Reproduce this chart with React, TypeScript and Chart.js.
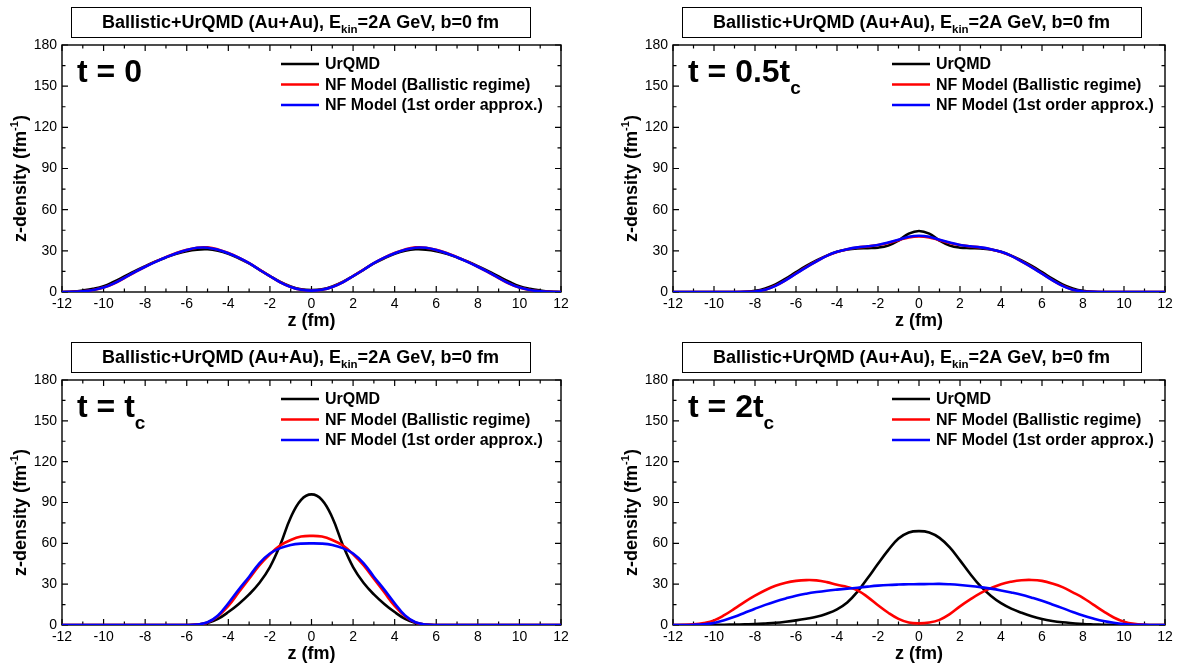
import React, { useEffect, useRef } from 'react';
import { Chart, registerables } from 'chart.js';

Chart.register(...registerables);

const FONT = '"Liberation Sans", Arial, Helvetica, sans-serif';

// ---------------- data ----------------
const Z = [
  -12, -11.5, -11, -10.5, -10, -9.5, -9, -8.5, -8, -7.5, -7, -6.5, -6, -5.5, -5, -4.5, -4, -3.5, -3, -2.5, -2, -1.5, -1, -0.5,
  0, 0.5, 1, 1.5, 2, 2.5, 3, 3.5, 4, 4.5, 5, 5.5, 6, 6.5, 7, 7.5, 8, 8.5, 9, 9.5, 10, 10.5, 11, 11.5, 12,
];

const X_TICKS = [-12, -10, -8, -6, -4, -2, 0, 2, 4, 6, 8, 10, 12];
const Y_TICKS = [0, 30, 60, 90, 120, 150, 180];

const SERIES_NAMES = ['UrQMD', 'NF Model (Ballistic regime)', 'NF Model (1st order approx.)'];
const SERIES_COLORS = ['#000000', '#ff0000', '#0000ff'];

const TITLE_MAIN = 'Ballistic+UrQMD (Au+Au), E';
const TITLE_SUB = 'kin';
const TITLE_END = '=2A GeV, b=0 fm';

const X_TITLE = 'z (fm)';
const Y_TITLE = 'z-density (fm';
const Y_TITLE_SUP = '-1';

const PANEL_LABELS = ['t = 0', 't = 0.5t', 't = t', 't = 2t'];
const PANEL_SUBS = ['', 'c', 'c', 'c'];

// t = 0
const P1_URQMD = [
  0, 0.3, 1.1, 2.3, 4.2, 7.5, 11.3, 15.2, 18.8, 22.2, 25.2, 27.8, 29.8, 30.9, 31.1, 30.0, 27.8, 24.6, 20.8, 16.2, 11.6, 7.3, 4.0, 2.0,
  1.5, 2.0, 4.0, 7.3, 11.6, 16.2, 20.8, 24.6, 27.8, 30.0, 31.1, 30.9, 29.8, 27.8, 25.2, 22.2, 18.8, 15.2, 11.3, 7.5, 4.2, 2.3, 1.1, 0.3, 0,
];
const P1_BALLISTIC = [
  0, 0.1, 0.5, 1.5, 3.2, 6.2, 10.2, 14.4, 18.4, 22.1, 25.4, 28.4, 30.7, 32.3, 32.5, 31.0, 28.4, 25.1, 21.1, 16.3, 11.6, 7.1, 3.7, 1.7,
  1.1, 1.7, 3.7, 7.1, 11.6, 16.3, 21.1, 25.1, 28.4, 31.0, 32.5, 32.3, 30.7, 28.4, 25.4, 22.1, 18.4, 14.4, 10.2, 6.2, 3.2, 1.5, 0.5, 0.1, 0,
];
const P1_FIRST = [
  0, 0.1, 0.5, 1.5, 3.2, 6.3, 10.3, 14.5, 18.4, 22.0, 25.3, 28.3, 30.6, 32.2, 32.3, 30.8, 28.3, 25.0, 21.0, 16.2, 11.5, 7.0, 3.6, 1.6,
  1.0, 1.6, 3.6, 7.0, 11.5, 16.2, 21.0, 25.0, 28.3, 30.8, 32.3, 32.2, 30.6, 28.3, 25.3, 22.0, 18.4, 14.5, 10.3, 6.3, 3.2, 1.5, 0.5, 0.1, 0,
];

// t = 0.5 tc
const P2_URQMD = [
  0, 0, 0, 0, 0, 0, 0, 0.2, 0.8, 2.6, 5.6, 9.8, 14.5, 19, 23, 26.5, 29.3, 31, 31.8, 32, 32.3, 33.8, 37.5, 42.5,
  44.5, 42.5, 37.5, 33.8, 32.3, 32, 31.8, 31, 29.3, 26.5, 23, 19, 14.5, 9.8, 5.6, 2.6, 0.8, 0.2, 0, 0, 0, 0, 0, 0, 0,
];
const P2_BALLISTIC = [
  0, 0, 0, 0, 0, 0, 0, 0.1, 0.4, 1.7, 4.6, 8.7, 13.4, 18.1, 22.4, 26.3, 29.2, 31.1, 32.4, 33.2, 34.2, 35.8, 37.8, 39.8,
  40.5, 39.8, 37.8, 35.8, 34.2, 33.2, 32.4, 31.1, 29.2, 26.3, 22.4, 18.1, 13.4, 8.7, 4.6, 1.7, 0.4, 0.1, 0, 0, 0, 0, 0, 0, 0,
];
const P2_FIRST = [
  0, 0, 0, 0, 0, 0, 0, 0.1, 0.4, 1.6, 4.5, 8.6, 13.3, 18, 22.3, 26.3, 29.3, 31.2, 32.5, 33.3, 34.3, 36, 38, 40.2,
  41, 40.2, 38, 36, 34.3, 33.3, 32.5, 31.2, 29.3, 26.3, 22.3, 18, 13.3, 8.6, 4.5, 1.6, 0.4, 0.1, 0, 0, 0, 0, 0, 0, 0,
];

// t = tc
const P3_URQMD = [
  0, 0, 0, 0, 0, 0, 0, 0, 0, 0, 0, 0, 0, 0.4, 1.5, 4.5, 9.5, 15.5, 22.5, 31, 42.5, 59, 79, 92,
  96, 92, 79, 59, 42.5, 31, 22.5, 15.5, 9.5, 4.5, 1.5, 0.4, 0, 0, 0, 0, 0, 0, 0, 0, 0, 0, 0, 0, 0,
];
const P3_BALLISTIC = [
  0, 0, 0, 0, 0, 0, 0, 0, 0, 0, 0, 0, 0, 0.4, 1.8, 6.5, 14, 24, 34, 44, 52, 58.5, 62.5, 65,
  65.5, 65, 62.5, 58.5, 52, 44, 34, 24, 14, 6.5, 1.8, 0.4, 0, 0, 0, 0, 0, 0, 0, 0, 0, 0, 0, 0, 0,
];
const P3_FIRST = [
  0, 0, 0, 0, 0, 0, 0, 0, 0, 0, 0, 0, 0, 0.4, 2, 7, 16, 26, 35.5, 45.5, 52.5, 56.5, 58.8, 59.8,
  60, 59.8, 58.8, 56.5, 52.5, 45.5, 35.5, 26, 16, 7, 2, 0.4, 0, 0, 0, 0, 0, 0, 0, 0, 0, 0, 0, 0, 0,
];

// t = 2 tc
const P4_URQMD = [
  0, 0, 0, 0, 0.1, 0.2, 0.3, 0.5, 0.7, 1.1, 1.6, 2.4, 3.4, 4.6, 6, 8.3, 11.5, 16.5, 24.5, 34.5, 45, 55, 63.5, 68,
  69, 68, 64, 57, 47.5, 37.5, 28.5, 21.5, 16, 12, 9, 6.4, 4.4, 3, 2, 1.3, 0.7, 0.4, 0.2, 0.1, 0, 0, 0, 0, 0,
];
const P4_BALLISTIC = [
  0, 0.1, 0.5, 1.5, 3.4, 7.2, 12, 17, 21.5, 25.5, 28.8, 31, 32.4, 33, 32.8, 31.5, 29.5, 28, 25.5, 20.5, 14.5, 9, 4.5, 1.8,
  1.2, 1.8, 3.8, 8, 13.7, 18.8, 23.4, 27, 30, 31.8, 32.9, 33.1, 32.4, 30.5, 27.8, 24, 20, 15, 10, 5.5, 2.4, 0.8, 0.2, 0, 0,
];
const P4_FIRST = [
  0, 0, 0.2, 0.6, 1.5, 3.5, 6, 9, 12, 14.8, 17.3, 19.5, 21.5, 23, 24.2, 25.2, 26, 26.7, 27.4, 28.2, 28.9, 29.4, 29.7, 29.9,
  30, 30.1, 30.2, 29.9, 29.4, 28.7, 27.8, 26.7, 25.4, 23.9, 22.2, 20.1, 17.8, 15.1, 12.4, 9.6, 7, 4.8, 2.9, 1.6, 0.7, 0.2, 0.1, 0, 0,
];

const PANEL_SERIES = [
  [P1_URQMD, P1_BALLISTIC, P1_FIRST],
  [P2_URQMD, P2_BALLISTIC, P2_FIRST],
  [P3_URQMD, P3_BALLISTIC, P3_FIRST],
  [P4_URQMD, P4_BALLISTIC, P4_FIRST],
];

// ---------------- layout ----------------
const W = 1188;
const H = 663;
const YW = 40;
const XH = 30;
const AREAS = [
  { l: 62, r: 561, t: 45, b: 292 },
  { l: 673, r: 1165, t: 45, b: 292 },
  { l: 62, r: 561, t: 380, b: 625 },
  { l: 673, r: 1165, t: 380, b: 625 },
];

type Part = { text: string; size: number; dy: number };

function drawParts(ctx: CanvasRenderingContext2D, parts: Part[], x: number, y: number, align: 'left' | 'center') {
  let total = 0;
  const widths = parts.map((p) => {
    ctx.font = `bold ${p.size}px ${FONT}`;
    const w = ctx.measureText(p.text).width;
    total += w;
    return w;
  });
  let cx = align === 'center' ? x - total / 2 : x;
  ctx.textAlign = 'left';
  parts.forEach((p, i) => {
    ctx.font = `bold ${p.size}px ${FONT}`;
    ctx.fillText(p.text, cx, y + p.dy);
    cx += widths[i];
  });
}

function makePlugin(idx: number) {
  return {
    id: 'decor' + idx,
    beforeDatasetsDraw(chart: any) {
      const { ctx, chartArea: a, scales } = chart;
      const xs = scales.x;
      const ys = scales.y;
      ctx.save();
      ctx.strokeStyle = '#000';
      ctx.lineWidth = 1.4;
      ctx.strokeRect(a.left, a.top, a.right - a.left, a.bottom - a.top);
      ctx.lineWidth = 1.2;
      ctx.beginPath();
      for (let k = 0; k < X_TICKS.length; k++) {
        const v = X_TICKS[k];
        const px = xs.getPixelForValue(v);
        ctx.moveTo(px, a.bottom);
        ctx.lineTo(px, a.bottom - 6);
        ctx.moveTo(px, a.top);
        ctx.lineTo(px, a.top + 6);
        if (k < X_TICKS.length - 1) {
          const m = xs.getPixelForValue((v + X_TICKS[k + 1]) / 2);
          ctx.moveTo(m, a.bottom);
          ctx.lineTo(m, a.bottom - 3.5);
          ctx.moveTo(m, a.top);
          ctx.lineTo(m, a.top + 3.5);
        }
      }
      for (let k = 0; k < Y_TICKS.length; k++) {
        const v = Y_TICKS[k];
        const py = ys.getPixelForValue(v);
        ctx.moveTo(a.left, py);
        ctx.lineTo(a.left + 6, py);
        ctx.moveTo(a.right, py);
        ctx.lineTo(a.right - 6, py);
        if (k < Y_TICKS.length - 1) {
          const m = ys.getPixelForValue((v + Y_TICKS[k + 1]) / 2);
          ctx.moveTo(a.left, m);
          ctx.lineTo(a.left + 3.5, m);
          ctx.moveTo(a.right, m);
          ctx.lineTo(a.right - 3.5, m);
        }
      }
      ctx.stroke();
      ctx.restore();
    },
    afterDraw(chart: any) {
      const { ctx, chartArea: a } = chart;
      ctx.save();
      ctx.fillStyle = '#000';
      ctx.strokeStyle = '#000';
      ctx.textBaseline = 'alphabetic';

      // title box
      const bcx = a.left + 238.5;
      const bw = 459;
      const btop = a.top - 38;
      ctx.lineWidth = 1;
      ctx.strokeRect(Math.round(bcx - bw / 2) + 0.5, btop + 0.5, bw, 30);
      drawParts(
        ctx,
        [
          { text: TITLE_MAIN, size: 18, dy: 0 },
          { text: TITLE_SUB, size: 11.5, dy: 5 },
          { text: TITLE_END, size: 18, dy: 0 },
        ],
        bcx,
        btop + 21,
        'center'
      );

      // big label
      const subs: Part[] = [{ text: PANEL_LABELS[idx], size: 32, dy: 0 }];
      if (PANEL_SUBS[idx]) subs.push({ text: PANEL_SUBS[idx], size: 19, dy: 12 });
      drawParts(ctx, subs, a.left + 15, a.top + 37, 'left');

      // legend
      const rows = [19, 39.5, 60];
      for (let s = 0; s < SERIES_NAMES.length; s++) {
        const yy = a.top + rows[s];
        ctx.strokeStyle = SERIES_COLORS[s];
        ctx.lineWidth = 2.6;
        ctx.beginPath();
        ctx.moveTo(a.left + 219, yy);
        ctx.lineTo(a.left + 257, yy);
        ctx.stroke();
        ctx.fillStyle = '#000';
        ctx.font = `bold 16px ${FONT}`;
        ctx.textBaseline = 'middle';
        ctx.textAlign = 'left';
        ctx.fillText(SERIES_NAMES[s], a.left + 263, yy + 1);
      }
      ctx.textBaseline = 'alphabetic';

      // x title
      drawParts(ctx, [{ text: X_TITLE, size: 18, dy: 0 }], (a.left + a.right) / 2, a.bottom + 34, 'center');

      // y title
      ctx.save();
      ctx.translate(a.left - 42, (a.top + a.bottom) / 2 + 10);
      ctx.rotate(-Math.PI / 2);
      drawParts(
        ctx,
        [
          { text: Y_TITLE, size: 18, dy: 0 },
          { text: Y_TITLE_SUP, size: 11, dy: -8 },
          { text: ')', size: 18, dy: 0 },
        ],
        0,
        6,
        'center'
      );
      ctx.restore();
      ctx.restore();
    },
  };
}

function Panel({ idx }: { idx: number }) {
  const ref = useRef<HTMLCanvasElement | null>(null);
  useEffect(() => {
    const canvas = ref.current;
    if (!canvas) return;
    const area = AREAS[idx];
    const series = PANEL_SERIES[idx];
    const chart = new Chart(canvas, {
      type: 'line',
      data: {
        datasets: series.map((vals, s) => ({
          label: SERIES_NAMES[s],
          data: Z.map((z, i) => ({ x: z, y: vals[i] })),
          borderColor: SERIES_COLORS[s],
          backgroundColor: SERIES_COLORS[s],
          borderWidth: 2.6,
          pointRadius: 0,
          fill: false,
          tension: 0.4,
          order: 3 - s,
        })),
      },
      options: {
        responsive: false,
        maintainAspectRatio: false,
        animation: false,
        devicePixelRatio: 1,
        events: [],
        layout: {
          padding: { left: area.l - YW, right: W - area.r, top: area.t, bottom: H - area.b - XH },
        },
        plugins: { legend: { display: false }, tooltip: { enabled: false }, title: { display: false } },
        scales: {
          x: {
            type: 'linear',
            min: -12,
            max: 12,
            grid: { display: false, drawTicks: false },
            border: { display: false },
            ticks: {
              color: '#000',
              font: { family: FONT, size: 14 },
              padding: 4,
              maxRotation: 0,
              autoSkip: false,
              callback: (v: any) => String(v),
            },
            afterBuildTicks: (s: any) => {
              s.ticks = X_TICKS.map((v) => ({ value: v }));
            },
            afterFit: (s: any) => {
              s.height = XH;
            },
          },
          y: {
            type: 'linear',
            min: 0,
            max: 180,
            grid: { display: false, drawTicks: false },
            border: { display: false },
            ticks: {
              color: '#000',
              font: { family: FONT, size: 14 },
              padding: 5,
              autoSkip: false,
              callback: (v: any) => String(v),
            },
            afterBuildTicks: (s: any) => {
              s.ticks = Y_TICKS.map((v) => ({ value: v }));
            },
            afterFit: (s: any) => {
              s.width = YW;
            },
          },
        },
      },
      plugins: [makePlugin(idx)],
    } as any);
    return () => chart.destroy();
  }, [idx]);
  return (
    <canvas
      ref={ref}
      width={W}
      height={H}
      style={{ position: 'absolute', left: 0, top: 0, width: W, height: H }}
    />
  );
}

export default function App() {
  return (
    <div style={{ position: 'fixed', left: 0, top: 0, width: W, height: H, background: '#ffffff' }}>
      {[0, 1, 2, 3].map((i) => (
        <Panel key={i} idx={i} />
      ))}
    </div>
  );
}
